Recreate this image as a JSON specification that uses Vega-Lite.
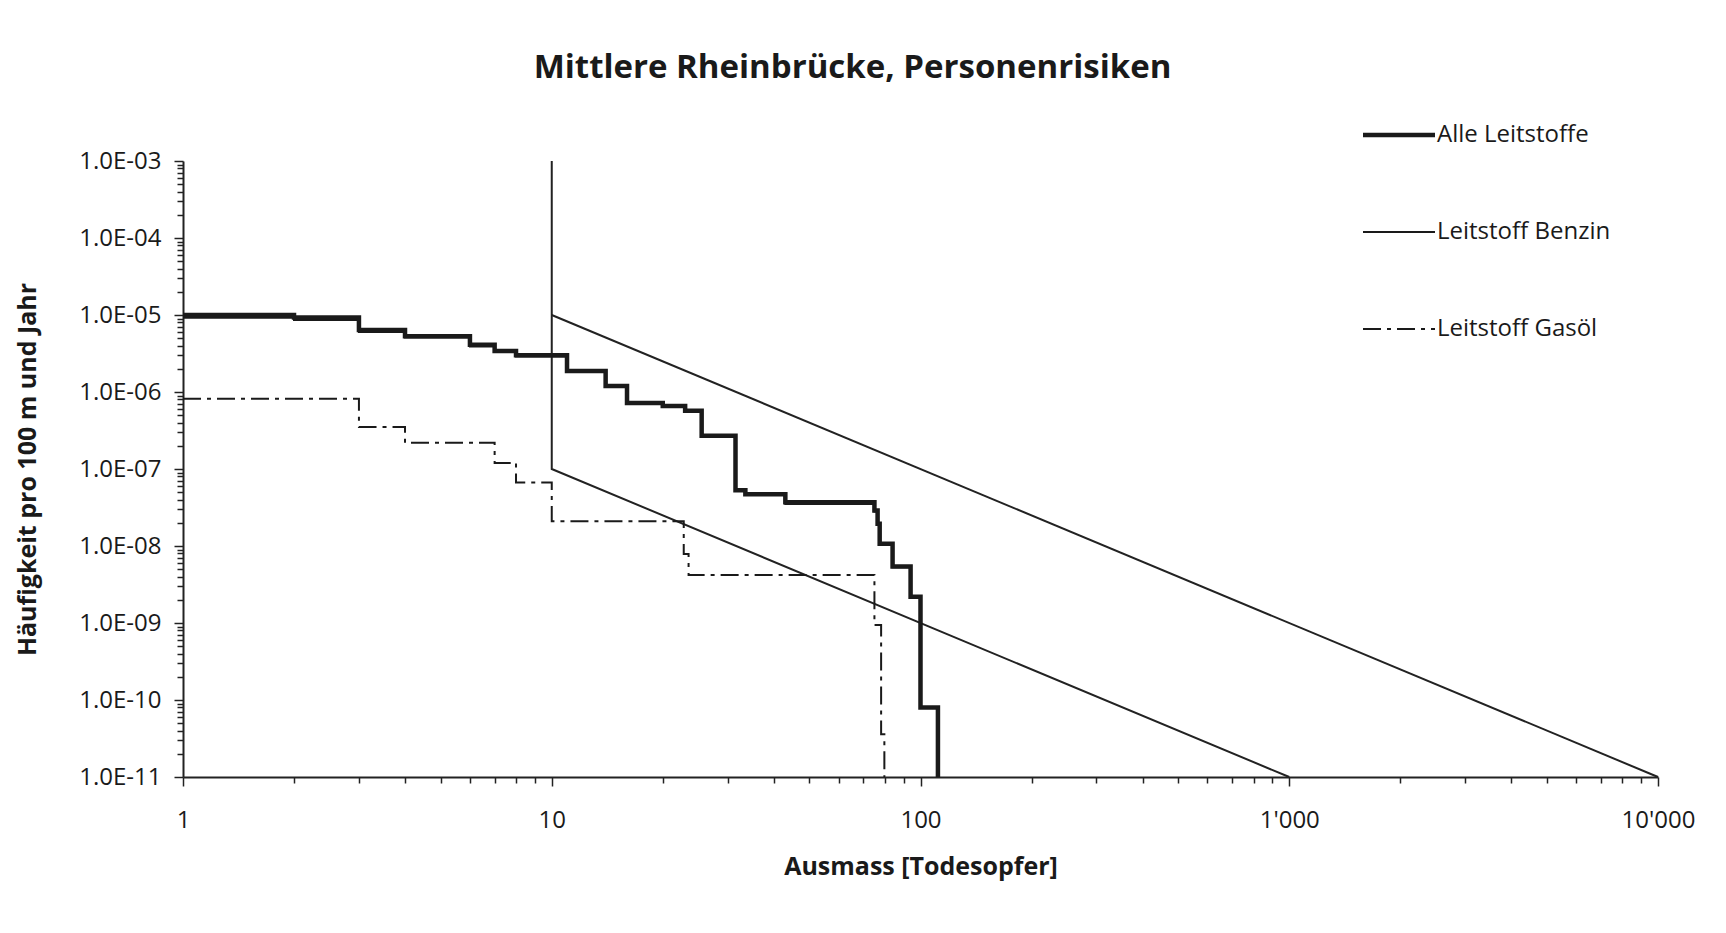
{
  "$schema": "https://vega.github.io/schema/vega-lite/v6.json",
  "autosize": "none",
  "width": 1475,
  "height": 616,
  "padding": {"left": 183, "top": 161, "right": 68, "bottom": 156},
  "background": "white",
  "title": {
    "text": "Mittlere Rheinbrücke, Personenrisiken",
    "font": "Open Sans",
    "fontSize": 33,
    "fontWeight": "bold",
    "color": "#1a1a1a",
    "anchor": "middle",
    "frame": "group",
    "dx": -68,
    "offset": 38
  },
  "config": {
    "view": {"stroke": null},
    "font": "Open Sans",
    "axis": {
      "grid": false,
      "domainColor": "#222",
      "domainWidth": 2,
      "tickColor": "#222",
      "tickWidth": 1.5,
      "labelColor": "#1a1a1a",
      "titleColor": "#1a1a1a",
      "labelFont": "Open Sans",
      "titleFont": "Open Sans",
      "labelFontSize": 24,
      "titleFontSize": 25,
      "titleFontWeight": "bold"
    },
    "legend": {
      "labelFont": "Open Sans",
      "labelFontSize": 24,
      "labelColor": "#1a1a1a",
      "labelLimit": 400
    }
  },
  "datasets": {
    "serien": [
      {"series": "Leitstoff Benzin", "x": 1, "y": 9.2e-6},
      {"series": "Leitstoff Benzin", "x": 2, "y": 8.6e-6},
      {"series": "Leitstoff Benzin", "x": 3, "y": 6.0e-6},
      {"series": "Leitstoff Benzin", "x": 4, "y": 5.1e-6},
      {"series": "Leitstoff Benzin", "x": 6, "y": 3.9e-6},
      {"series": "Leitstoff Benzin", "x": 7, "y": 3.3e-6},
      {"series": "Leitstoff Benzin", "x": 8, "y": 2.9e-6},
      {"series": "Leitstoff Benzin", "x": 11, "y": 1.85e-6},
      {"series": "Leitstoff Benzin", "x": 14, "y": 1.18e-6},
      {"series": "Leitstoff Benzin", "x": 16, "y": 7.1e-7},
      {"series": "Leitstoff Benzin", "x": 20, "y": 6.5e-7},
      {"series": "Leitstoff Benzin", "x": 23, "y": 5.6e-7},
      {"series": "Leitstoff Benzin", "x": 25.5, "y": 2.65e-7},
      {"series": "Leitstoff Benzin", "x": 31.5, "y": 5.2e-8},
      {"series": "Leitstoff Benzin", "x": 33.5, "y": 4.6e-8},
      {"series": "Leitstoff Benzin", "x": 43, "y": 3.5e-8},
      {"series": "Leitstoff Benzin", "x": 75, "y": 2.8e-8},
      {"series": "Leitstoff Benzin", "x": 76.5, "y": 1.9e-8},
      {"series": "Leitstoff Benzin", "x": 77.5, "y": 1.05e-8},
      {"series": "Leitstoff Benzin", "x": 84, "y": 5.3e-9},
      {"series": "Leitstoff Benzin", "x": 94, "y": 2.2e-9},
      {"series": "Leitstoff Benzin", "x": 100, "y": 8e-11},
      {"series": "Leitstoff Benzin", "x": 111.5, "y": 1e-11},
      {"series": "Leitstoff Gasöl", "x": 1, "y": 8.2e-7},
      {"series": "Leitstoff Gasöl", "x": 3, "y": 3.5e-7},
      {"series": "Leitstoff Gasöl", "x": 4, "y": 2.2e-7},
      {"series": "Leitstoff Gasöl", "x": 7, "y": 1.2e-7},
      {"series": "Leitstoff Gasöl", "x": 8, "y": 6.7e-8},
      {"series": "Leitstoff Gasöl", "x": 10, "y": 2.1e-8},
      {"series": "Leitstoff Gasöl", "x": 22.8, "y": 7.9e-9},
      {"series": "Leitstoff Gasöl", "x": 23.5, "y": 4.2e-9},
      {"series": "Leitstoff Gasöl", "x": 75, "y": 9.4e-10},
      {"series": "Leitstoff Gasöl", "x": 78.2, "y": 3.6e-11},
      {"series": "Leitstoff Gasöl", "x": 79.8, "y": 1e-11},
      {"series": "Alle Leitstoffe", "x": 1, "y": 1e-5},
      {"series": "Alle Leitstoffe", "x": 2, "y": 9.3e-6},
      {"series": "Alle Leitstoffe", "x": 3, "y": 6.4e-6},
      {"series": "Alle Leitstoffe", "x": 4, "y": 5.3e-6},
      {"series": "Alle Leitstoffe", "x": 6, "y": 4.1e-6},
      {"series": "Alle Leitstoffe", "x": 7, "y": 3.4e-6},
      {"series": "Alle Leitstoffe", "x": 8, "y": 3.0e-6},
      {"series": "Alle Leitstoffe", "x": 11, "y": 1.87e-6},
      {"series": "Alle Leitstoffe", "x": 14, "y": 1.2e-6},
      {"series": "Alle Leitstoffe", "x": 16, "y": 7.2e-7},
      {"series": "Alle Leitstoffe", "x": 20, "y": 6.6e-7},
      {"series": "Alle Leitstoffe", "x": 23, "y": 5.7e-7},
      {"series": "Alle Leitstoffe", "x": 25.5, "y": 2.7e-7},
      {"series": "Alle Leitstoffe", "x": 31.5, "y": 5.3e-8},
      {"series": "Alle Leitstoffe", "x": 33.5, "y": 4.7e-8},
      {"series": "Alle Leitstoffe", "x": 43, "y": 3.7e-8},
      {"series": "Alle Leitstoffe", "x": 75, "y": 2.9e-8},
      {"series": "Alle Leitstoffe", "x": 76.5, "y": 1.95e-8},
      {"series": "Alle Leitstoffe", "x": 77.5, "y": 1.07e-8},
      {"series": "Alle Leitstoffe", "x": 84, "y": 5.4e-9},
      {"series": "Alle Leitstoffe", "x": 94, "y": 2.2e-9},
      {"series": "Alle Leitstoffe", "x": 100, "y": 8e-11},
      {"series": "Alle Leitstoffe", "x": 111.5, "y": 1e-11}
    ],
    "grenzen": [
      {"linie": "A", "i": 1, "x": 10, "y": 1e-3},
      {"linie": "A", "i": 2, "x": 10, "y": 1e-7},
      {"linie": "A", "i": 3, "x": 1000, "y": 1e-11},
      {"linie": "B", "i": 1, "x": 10, "y": 1e-5},
      {"linie": "B", "i": 2, "x": 10000, "y": 1e-11}
    ]
  },
  "encoding": {
    "x": {
      "field": "x",
      "type": "quantitative",
      "title": "Ausmass [Todesopfer]",
      "scale": {"type": "log", "domain": [1, 10000], "nice": false},
      "axis": {
        "values": [1,2,3,4,5,6,7,8,9,10,20,30,40,50,60,70,80,90,100,200,300,400,500,600,700,800,900,1000,2000,3000,4000,5000,6000,7000,8000,9000,10000],
        "labelExpr": "datum.value == 1 ? '1' : datum.value == 10 ? '10' : datum.value == 100 ? '100' : datum.value == 1000 ? \"1'000\" : datum.value == 10000 ? \"10'000\" : ''",
        "labelOverlap": false,
        "labelFlush": false,
        "tickSize": {"condition": {"test": "datum.value == 1 || datum.value == 10 || datum.value == 100 || datum.value == 1000 || datum.value == 10000", "value": 9}, "value": 6},
        "labelPadding": 22,
        "titlePadding": 22
      }
    },
    "y": {
      "field": "y",
      "type": "quantitative",
      "title": "Häufigkeit pro 100 m und Jahr",
      "scale": {"type": "log", "domain": [1e-11, 1e-3], "nice": false},
      "axis": {
        "values": [1e-11,2e-11,3e-11,4e-11,5e-11,6e-11,7e-11,8e-11,9e-11,1e-10,2e-10,3e-10,4e-10,5e-10,6e-10,7e-10,8e-10,9e-10,1e-9,2e-9,3e-9,4e-9,5e-9,6e-9,7e-9,8e-9,9e-9,1e-8,2e-8,3e-8,4e-8,5e-8,6e-8,7e-8,8e-8,9e-8,1e-7,2e-7,3e-7,4e-7,5e-7,6e-7,7e-7,8e-7,9e-7,1e-6,2e-6,3e-6,4e-6,5e-6,6e-6,7e-6,8e-6,9e-6,1e-5,2e-5,3e-5,4e-5,5e-5,6e-5,7e-5,8e-5,9e-5,1e-4,2e-4,3e-4,4e-4,5e-4,6e-4,7e-4,8e-4,9e-4,1e-3],
        "labelExpr": "abs(log(datum.value)/LN10 - round(log(datum.value)/LN10)) < 0.001 ? '1.0E-' + format(-round(log(datum.value)/LN10), '02d') : ''",
        "labelOverlap": false,
        "labelFlush": false,
        "tickSize": {"condition": {"test": "abs(log(datum.value)/LN10 - round(log(datum.value)/LN10)) < 0.001", "value": 9}, "value": 6},
        "labelPadding": 13,
        "titlePadding": 38
      }
    }
  },
  "layer": [
    {
      "data": {"name": "grenzen"},
      "mark": {"type": "line", "color": "#222", "strokeWidth": 2},
      "encoding": {
        "detail": {"field": "linie", "type": "nominal"},
        "order": {"field": "i", "type": "quantitative"}
      }
    },
    {
      "data": {"name": "serien"},
      "mark": {"type": "line", "color": "#1a1a1a", "interpolate": "step-after"},
      "encoding": {
        "strokeDash": {
          "field": "series",
          "type": "nominal",
          "scale": {
            "domain": ["Alle Leitstoffe", "Leitstoff Benzin", "Leitstoff Gasöl"],
            "range": [[1, 0], [1, 0], [18, 6, 4, 6]]
          },
          "legend": {
            "title": null,
            "orient": "none",
            "legendX": 1204,
            "legendY": -38,
            "direction": "vertical",
            "symbolType": "stroke",
            "symbolSize": 5184,
            "symbolStrokeColor": "#1a1a1a",
            "rowPadding": 73,
            "labelOffset": 26,
            "encode": {
              "symbols": {
                "update": {
                  "strokeWidth": {"signal": "datum.value === 'Alle Leitstoffe' ? 4.5 : 2"}
                }
              }
            }
          }
        },
        "strokeWidth": {
          "condition": {"test": "datum.series === 'Alle Leitstoffe'", "value": 4.5},
          "value": 2
        }
      }
    }
  ]
}
